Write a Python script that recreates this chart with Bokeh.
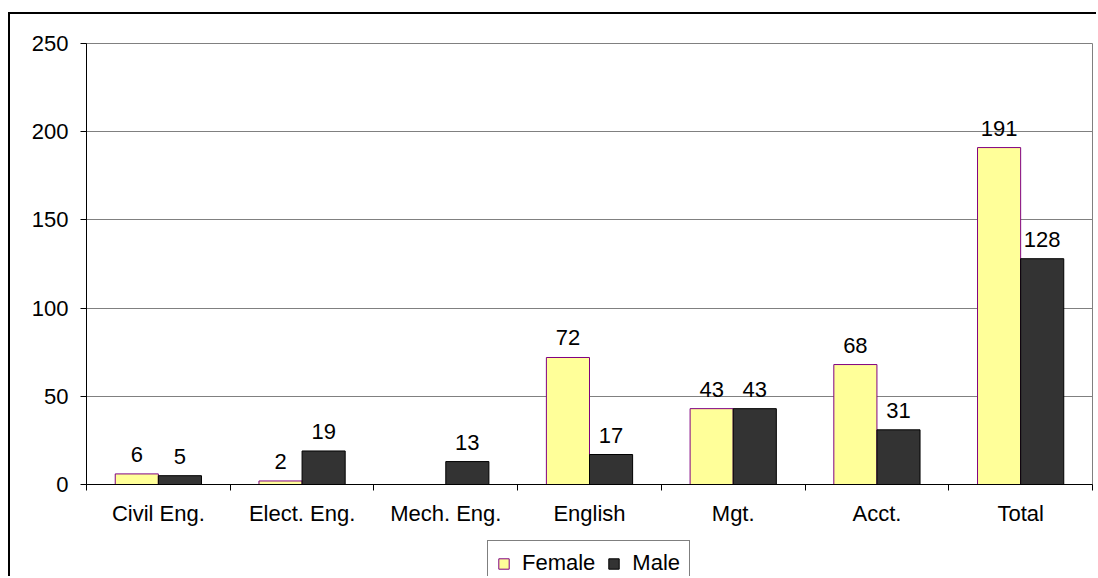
from bokeh.plotting import figure
from bokeh.layouts import column
from bokeh.models import Range1d, FixedTicker, ColumnDataSource, Legend, LegendItem
from bokeh.core.properties import value
from bokeh.embed import file_html
from bokeh.resources import INLINE

categories = ["Civil Eng.", "Elect. Eng.", "Mech. Eng.", "English", "Mgt.", "Acct.", "Total"]
female = [6, 2, 0, 72, 43, 68, 191]
male = [5, 19, 13, 17, 43, 31, 128]
y_ticks = [0, 50, 100, 150, 200, 250]
series_names = ["Female", "Male"]

FONT = "Liberation Sans"
FS = "22px"
FEMALE_FILL, FEMALE_LINE = "#FFFF99", "#800080"
MALE_FILL, MALE_LINE = "#333333", "black"

centers = [i + 0.5 for i in range(len(categories))]
bw = 0.3
src = ColumnDataSource(dict(
    xf=[c - bw / 2 for c in centers],
    xm=[c + bw / 2 for c in centers],
    female=female,
    male=male,
    lf=[str(v) if v else "" for v in female],
    lm=[str(v) if v else "" for v in male],
))

p = figure(width=1088, height=516, output_backend="svg", toolbar_location=None,
           x_range=Range1d(0, len(categories)), y_range=Range1d(0, 250),
           min_border_left=76, min_border_top=29, min_border_right=6, min_border_bottom=46)
p.styles = {"margin-left": "8px", "margin-top": "12px",
            "border-left": "2px solid black", "border-top": "2px solid black"}

p.outline_line_color = "#808080"
p.background_fill_color = "white"
p.border_fill_color = "white"

p.vbar(x="xf", top="female", width=bw, source=src, fill_color=FEMALE_FILL,
       line_color=FEMALE_LINE, line_width=1)
p.vbar(x="xm", top="male", width=bw, source=src, fill_color=MALE_FILL,
       line_color=MALE_LINE, line_width=1)

p.text(x="xf", y="female", text="lf", source=src, text_align="center", text_baseline="bottom",
       y_offset=-12, text_font=value(FONT), text_font_size=FS, text_color="black")
p.text(x="xm", y="male", text="lm", source=src, text_align="center", text_baseline="bottom",
       y_offset=-12, text_font=value(FONT), text_font_size=FS, text_color="black")

# y axis
p.yaxis.ticker = FixedTicker(ticks=y_ticks)
p.yaxis.axis_line_color = "black"
p.yaxis.major_tick_line_color = "black"
p.yaxis.major_tick_out = 6
p.yaxis.major_tick_in = 0
p.yaxis.minor_tick_line_color = None
p.yaxis.major_label_standoff = 12
p.yaxis.major_label_text_font = FONT
p.yaxis.major_label_text_font_size = FS
p.yaxis.major_label_text_color = "black"

# x axis
p.xaxis.ticker = FixedTicker(ticks=centers, minor_ticks=list(range(len(categories) + 1)))
p.xaxis.major_label_overrides = {c: n for c, n in zip(centers, categories)}
p.xaxis.axis_line_color = "black"
p.xaxis.major_tick_line_color = None
p.xaxis.major_tick_out = 0
p.xaxis.minor_tick_line_color = "black"
p.xaxis.minor_tick_out = 6
p.xaxis.minor_tick_in = 0
p.xaxis.major_label_standoff = 10
p.xaxis.major_label_text_font = FONT
p.xaxis.major_label_text_font_size = FS
p.xaxis.major_label_text_color = "black"

p.xgrid.grid_line_color = None
p.ygrid.grid_line_color = "#808080"
p.ygrid.grid_line_width = 1

# legend strip below the chart (frame aligned with the chart's frame by the column)
q = figure(width=1088, height=48, output_backend="svg", toolbar_location=None,
           x_range=Range1d(0, len(categories)), y_range=Range1d(1000, 1001),
           x_axis_location=None, y_axis_location=None,
           min_border_left=76, min_border_right=6, min_border_top=0, min_border_bottom=0)
q.styles = {"margin-left": "8px", "border-left": "2px solid black"}
q.outline_line_color = None
q.xgrid.grid_line_color = None
q.ygrid.grid_line_color = None
q.background_fill_color = "white"
q.border_fill_color = "white"
# proxies for the legend swatches (bars fall below this strip's visible range)
lf_r = q.vbar(x="xf", top="female", width=bw, source=src, fill_color=FEMALE_FILL, line_color=FEMALE_LINE)
lm_r = q.vbar(x="xm", top="male", width=bw, source=src, fill_color=MALE_FILL, line_color=MALE_LINE)

legend = Legend(items=[LegendItem(label=series_names[0], renderers=[lf_r]),
                       LegendItem(label=series_names[1], renderers=[lm_r])],
                orientation="horizontal", location=(401, -10),
                border_line_color="black", border_line_width=1,
                background_fill_color="white", background_fill_alpha=1,
                label_text_font=FONT, label_text_font_size=FS, label_text_color="black",
                glyph_width=13, glyph_height=13, spacing=12, padding=9, margin=0,
                label_standoff=12, label_height=22)
q.add_layout(legend, "center")

layout = column(p, q, spacing=0)
open("out.html", "w").write(file_html(layout, INLINE))
